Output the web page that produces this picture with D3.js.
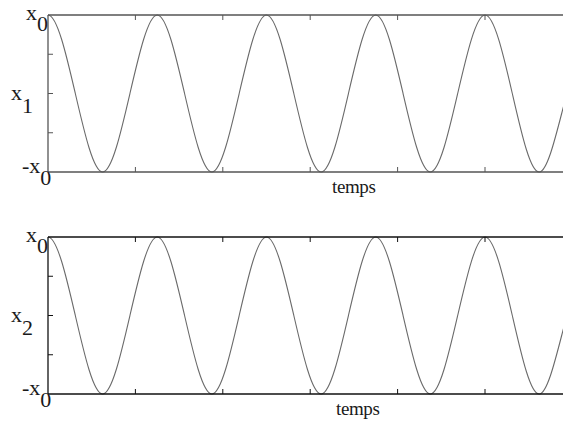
<!DOCTYPE html>
<html><head><meta charset="utf-8">
<script src="https://cdn.jsdelivr.net/npm/d3@7"></script>
<style>body{margin:0;background:#fff}svg{display:block}text{font-family:"Liberation Serif","Times New Roman",serif;fill:#1a1a1a}</style>
</head><body><svg id="c" width="563" height="421"></svg>
<script>
// time samples (quarter periods), in tick units
const times = [-0.3125,0,0.3125,0.625,0.9375,1.25,1.5625,1.875,2.1875,2.5,2.8125,3.125,3.4375,3.75,4.0625,4.375,4.6875,5,5.3125,5.625,5.9375,6.25];
const x1Values = [0,1,0,-1,0,1,0,-1,0,1,0,-1,0,1,0,-1,0,1,0,-1,0,1];
const x2Values = [0,1,0,-1,0,1,0,-1,0,1,0,-1,0,1,0,-1,0,1,0,-1,0,1];
const xTicks = [0,1,2,3,4,5,6];
const yTicks = [-0.5,0,0.5];
const panels = [
  {name:"1", values:x1Values, top:15, bottom:172, axisColor:"#555"},
  {name:"2", values:x2Values, top:237, bottom:394, axisColor:"#111"}
];

const svg = d3.select("#c");
const x = d3.scaleLinear().domain([0,6]).range([48,48+6*87.4]);

panels.forEach((p,pi)=>{
  const y = d3.scaleLinear().domain([-1,1]).range([p.bottom,p.top]);
  const g = svg.append("g");
  svg.append("clipPath").attr("id","clip"+pi).append("rect")
    .attr("x",x(0)).attr("y",p.top-3).attr("width",563-x(0)).attr("height",p.bottom-p.top+6);
  g.append("path").datum(p.values)
    .attr("clip-path","url(#clip"+pi+")")
    .attr("d", d3.line().x((d,i)=>x(times[i])).y(d=>y(d)).curve(d3.curveNatural))
    .attr("fill","none").attr("stroke","#6a6a6a").attr("stroke-width",1.1);
  // frame lines
  g.append("line").attr("x1",x(0)).attr("x2",563).attr("y1",y(1)).attr("y2",y(1)).attr("stroke",p.axisColor).attr("stroke-width",1.3);
  g.append("line").attr("x1",x(0)).attr("x2",563).attr("y1",y(-1)).attr("y2",y(-1)).attr("stroke",p.axisColor).attr("stroke-width",1.3);
  g.append("line").attr("x1",x(0)).attr("x2",x(0)).attr("y1",y(1)).attr("y2",y(-1)).attr("stroke",p.axisColor).attr("stroke-width",1.3);
  // ticks
  xTicks.filter(t=>t>0).forEach(t=>{
    g.append("line").attr("x1",x(t)).attr("x2",x(t)).attr("y1",y(-1)).attr("y2",y(-1)-5).attr("stroke",p.axisColor);
    g.append("line").attr("x1",x(t)).attr("x2",x(t)).attr("y1",y(1)).attr("y2",y(1)+5).attr("stroke",p.axisColor);
  });
  yTicks.forEach(t=>{
    g.append("line").attr("x1",x(0)).attr("x2",x(0)+5).attr("y1",y(t)).attr("y2",y(t)).attr("stroke",p.axisColor);
  });
  // labels
  const t1 = g.append("text").attr("x",26).attr("y",y(1)+5).style("font-size","22px");
  t1.append("tspan").text("x");
  t1.append("tspan").attr("dy",11).attr("dx",0).text("0");
  const t2 = g.append("text").attr("x",22).attr("y",y(-1)+1).style("font-size","22px");
  t2.append("tspan").text("-x");
  t2.append("tspan").attr("dy",12).attr("dx",0).text("0");
  const t3 = g.append("text").attr("x",11).attr("y",y(0)+6).style("font-size","22px");
  t3.append("tspan").text("x");
  t3.append("tspan").attr("dy",13).attr("dx",0).text(p.name);
  g.append("text").attr("x",p.name==="1"?332:336).attr("y",p.bottom+21)
    .style("font-size","19px").style("letter-spacing","-0.4px").text("temps");
});
</script></body></html>
